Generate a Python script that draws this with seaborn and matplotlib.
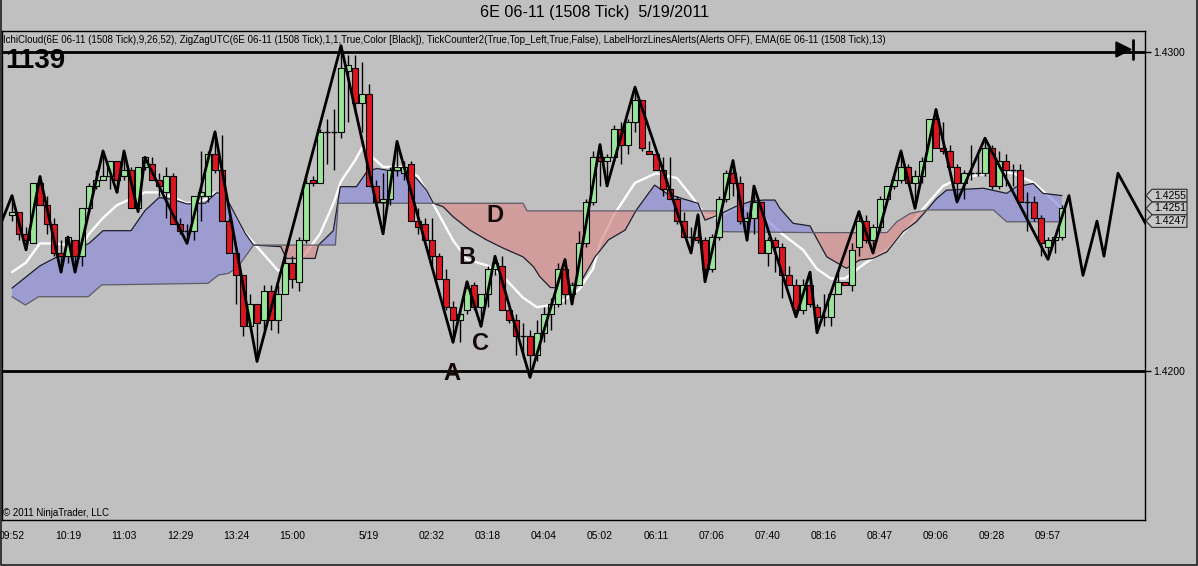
import numpy as np
import matplotlib
matplotlib.use("Agg")
import matplotlib.pyplot as plt
import seaborn as sns
from matplotlib.patches import Polygon
from matplotlib.lines import Line2D

# ---------------- data (prices expressed as pips above 1.4200) ----------------
BASE = 1.4200
PIP = 0.0001

opens_pips = [49, 50, 43, 40, 59, 52, 46, 37, 36, 41,
              36, 51, 58, 60, 61, 66, 61, 63, 51, 64,
              65, 60, 56, 61, 46, 44, 44, 55, 55, 68,
              63, 47, 37, 30, 14, 21, 16, 25, 16, 24,
              34, 28, 41, 60, 59, 75, 75, 75, 94, 95,
              84, 87, 58, 53, 54, 63, 62, 65, 47, 46,
              41, 36, 29, 20, 16, 19, 27, 20, 24, 32,
              33, 19, 16, 11, 11, 5, 12, 18, 21, 32,
              24, 27, 40, 53, 67, 66, 67, 76, 71, 78,
              85, 69, 68, 63, 57, 54, 47, 42, 42, 41,
              32, 42, 54, 62, 59, 47, 48, 53, 37, 41,
              39, 30, 27, 19, 27, 20, 17, 17, 24, 28,
              27, 39, 47, 41, 45, 54, 58, 60, 64, 59,
              61, 66, 79, 70, 69, 64, 59, 62, 62, 62,
              70, 58, 66, 63, 63, 53, 53, 48, 39, 41,
              42]
highs_pips = [55, 50, 45, 59, 61, 55, 48, 41, 42, 41,
              51, 59, 63, 69, 66, 66, 69, 64, 64, 67,
              67, 62, 64, 62, 48, 46, 55, 69, 69, 75,
              74, 48, 37, 30, 24, 21, 27, 27, 27, 36,
              36, 42, 61, 61, 76, 79, 82, 102, 99, 99,
              97, 90, 60, 62, 64, 72, 66, 66, 51, 48,
              48, 37, 32, 22, 19, 28, 28, 24, 33, 36,
              36, 20, 18, 15, 13, 16, 20, 23, 34, 35,
              28, 44, 54, 69, 71, 68, 77, 78, 79, 89,
              85, 72, 68, 67, 67, 55, 50, 45, 49, 42,
              43, 55, 63, 66, 61, 50, 58, 53, 42, 42,
              40, 33, 29, 29, 31, 21, 24, 24, 31, 28,
              40, 50, 49, 46, 55, 58, 61, 69, 65, 63,
              67, 79, 82, 78, 71, 65, 63, 71, 69, 73,
              71, 69, 68, 65, 65, 56, 55, 49, 42, 42,
              52]
lows_pips = [47, 41, 38, 40, 52, 43, 36, 31, 34, 31,
             33, 50, 57, 60, 57, 56, 60, 51, 50, 63,
             60, 55, 48, 46, 43, 40, 41, 47, 53, 62,
             47, 37, 21, 11, 14, 3, 13, 13, 12, 24,
             26, 25, 40, 58, 59, 65, 63, 73, 78, 81,
             75, 58, 52, 43, 52, 61, 60, 47, 43, 41,
             33, 29, 19, 9, 9, 18, 19, 14, 20, 30,
             19, 15, 5, 4, -2, 3, 9, 13, 20, 21,
             21, 27, 39, 52, 58, 58, 66, 65, 68, 75,
             69, 68, 63, 55, 54, 46, 42, 37, 40, 28,
             31, 41, 53, 55, 46, 41, 43, 37, 33, 31,
             23, 27, 17, 18, 20, 12, 14, 14, 24, 27,
             25, 36, 40, 37, 44, 54, 57, 59, 59, 51,
             59, 66, 70, 68, 64, 53, 54, 60, 61, 61,
             57, 57, 58, 58, 53, 44, 47, 36, 35, 37,
             41]
closes_pips = [50, 43, 41, 59, 52, 46, 37, 36, 42, 36,
               51, 58, 60, 61, 66, 60, 63, 51, 64, 67,
               60, 58, 61, 46, 44, 44, 55, 56, 68, 63,
               47, 37, 30, 14, 21, 15, 25, 16, 24, 34,
               29, 41, 59, 59, 75, 75, 75, 95, 96, 84,
               87, 58, 53, 54, 63, 64, 64, 47, 45, 41,
               36, 29, 20, 16, 18, 26, 20, 24, 32, 34,
               19, 16, 11, 11, 5, 12, 18, 21, 32, 24,
               27, 40, 53, 67, 66, 67, 76, 71, 78, 85,
               70, 68, 63, 57, 54, 47, 42, 42, 41, 32,
               42, 54, 62, 59, 47, 48, 53, 37, 41, 39,
               30, 27, 19, 27, 21, 17, 17, 24, 28, 27,
               38, 47, 41, 45, 54, 58, 60, 64, 59, 61,
               66, 79, 70, 69, 64, 59, 62, 62, 62, 70,
               58, 66, 63, 63, 53, 53, 48, 40, 41, 42,
               51]

# EMA(13) read at bar positions
ema_bar = [0, 2, 4, 6, 8, 10, 11, 13, 15, 17, 19, 21, 23, 25, 28, 29, 31, 33, 36, 38,
           40, 42, 44, 46, 47, 49, 50, 51, 53, 56, 58, 60, 63, 65, 68, 70, 73, 75, 78, 81,
           83, 84, 86, 89, 92, 95, 97, 99, 101, 103, 105, 108, 110, 113, 115, 117, 119, 122, 125, 128,
           130, 133, 135, 138, 141, 143, 146, 148, 150]
ema_pips = [31, 34, 40, 40, 39.5, 39.5, 43, 48, 52, 54, 56, 56, 54.5, 52.5, 54, 56, 52, 44, 36.5, 31.5,
            32, 37, 43, 53, 59.5, 66, 70, 68, 64, 64, 61, 53, 41, 35, 33, 30, 23, 20, 21, 25.5,
            32, 40, 49, 59, 62, 60.5, 55, 49, 48, 51, 51, 47, 43, 38, 32, 29, 29, 34, 38, 45,
            50.5, 58, 60, 61.5, 62.5, 62, 59, 55, 51]

# Ichimoku cloud spans
span_a_bar = [0, 4, 6, 11, 13, 17, 19, 21, 23, 25, 27.6, 29.2, 30.4, 32.3, 33.3, 34.5, 38.4, 39.2, 43.3, 43.8,
              45.9, 46.9, 49.2, 50.7, 52.1, 54, 55.9, 57.8, 59.2, 60.2, 61.6, 63, 65.4, 67.8, 70.2, 73, 74.5, 75.4, 76.9, 79.5,
              81.4, 83.3, 85.2, 87.6, 89.2, 91.8, 93.5, 95.7, 98, 99, 100.9, 103.3, 105.4, 107.3, 109, 109.7, 111.6, 114, 114.5, 116.4,
              119.2, 121.1, 123, 125, 127.3, 129.2, 130.7, 132.1, 133.5, 138.8, 142.1, 143.5, 145.9, 147.3, 150]
span_a_pips = [26, 33, 35.3, 40, 44, 44, 50.3, 54.4, 53.8, 52.4, 52.6, 55.9, 55.2, 47.3, 43.2, 39.5, 39.0, 35.3, 35.3, 39.5,
               44.0, 57.8, 57.8, 62.5, 63.5, 62.8, 62.8, 60.4, 56.7, 52.6, 51.5, 48.4, 44.2, 41.1, 38.5, 35.8, 32.7, 29.6, 26.2, 25.9,
               28.5, 35.8, 41.1, 44.2, 50.5, 58.3, 55.7, 54.1, 52.6, 47.3, 48.9, 51.5, 53.1, 53.6, 53.6, 51, 46.3, 45.5, 43.4, 35.8,
               32.2, 34.8, 35.3, 37.4, 43.7, 46.8, 50.5, 54.1, 56.7, 57.3, 55.7, 57.8, 58.8, 55.7, 55]
span_b_bar = [0, 1.9, 3.8, 10.9, 12.8, 28, 29.5, 30.9, 32.3, 34.5, 46.2, 46.6, 73.0, 73.6, 100.6, 101.2,
              114.5, 125, 126.4, 128.3, 130.7, 140.2, 142.1, 150]
span_b_pips = [23.3, 20.7, 23.3, 23.3, 27.0, 27.5, 30.1, 30.6, 32.7, 39.5, 39.5, 52.6, 52.6, 50.2, 50.2, 43.7,
               43.4, 43.4, 46.8, 49.4, 50.5, 50.5, 46.8, 46.8]

# ZigZag swing points (last six are the projected leg beyond the last bar)
zz_bar = [-2, 0, 2, 4, 7, 8, 9, 13, 15, 16, 18, 19, 25, 29, 35, 47, 53, 55, 63, 65, 67, 69, 74, 79, 80,
          84, 85, 89, 97, 98, 99, 103, 105, 106, 112, 114, 115, 121, 123, 127, 129, 132, 135, 139, 148,
          151, 153, 155, 156, 158, 162]
zz_pips = [44, 55, 38, 61, 31, 42, 31, 69, 56, 69, 50, 67, 40, 75, 3, 102, 43, 72, 9, 28, 14, 36, -2, 35, 21,
           71, 58, 89, 37, 49, 28, 66, 41, 58, 17, 31, 12, 50, 37, 69, 51, 82, 53, 73, 35,
           55, 30, 47, 36, 62, 46]

tick_bars = [0, 8, 16, 24, 32, 40, 48, 51, 60, 68, 76, 84, 92, 100, 108, 116, 124, 132, 140, 148]
tick_labels = ["09:52", "10:19", "11:03", "12:29", "13:24", "15:00", "", "5/19", "02:32", "03:18",
               "04:04", "05:02", "06:11", "07:06", "07:40", "08:16", "08:47", "09:06", "09:28", "09:57"]

price_ticks = [1.4300, 1.4200]
price_tick_labels = ["1.4300", "1.4200"]
tag_values = [1.4255, 1.4251, 1.4247]

abcd_labels = ["A", "B", "C", "D"]
abcd_bar = [62.8, 65.0, 66.9, 69.0]
abcd_pips = [-0.8, 35.5, 8.7, 48.9]

title_text = "6E 06-11 (1508 Tick)  5/19/2011"
indicator_text = ("IchiCloud(6E 06-11 (1508 Tick),9,26,52), ZigZagUTC(6E 06-11 (1508 Tick),1,1,True,Color [Black]), "
                  "TickCounter2(True,Top_Left,True,False), LabelHorzLinesAlerts(Alerts OFF), EMA(6E 06-11 (1508 Tick),13)")
counter_text = "1139"
copyright_text = "\u00a9 2011 NinjaTrader, LLC"

# ---------------- conversion ----------------
def to_price(p):
    return BASE + np.asarray(p, dtype=float) * PIP

o = to_price(opens_pips)
h = to_price(highs_pips)
l = to_price(lows_pips)
c = to_price(closes_pips)
idx = np.arange(len(o))

# ---------------- style ----------------
BG = "#C0C0C0"
GREEN = "#9AE59A"
RED = "#DA1620"
sns.set_style("white", {"axes.facecolor": BG, "figure.facecolor": BG})
plt.rcParams['font.family'] = ['Liberation Sans', 'DejaVu Sans']

W, H = 1198, 566
fig = plt.figure(figsize=(W / 100, H / 100), dpi=100, facecolor=BG)


def fx(px):
    return px / W


def fy(py):
    return 1 - py / H


ax = fig.add_axes([fx(2), fy(520), fx(1145) - fx(2), fy(31) - fy(520)])
ax.set_facecolor(BG)
ax.set_xlim(-1.43, 161.86)
ax.set_ylim(float(to_price(-46.7)), float(to_price(106.6)))

# EMA (under the cloud)
sns.lineplot(x=ema_bar, y=to_price(ema_pips), color="white", lw=1.7, ax=ax, zorder=1.5,
             estimator=None, sort=False)

# Cloud
grid = np.linspace(0, 150, 3001)
a_g = np.interp(grid, span_a_bar, to_price(span_a_pips))
b_g = np.interp(grid, span_b_bar, to_price(span_b_pips))
ax.fill_between(grid, a_g, b_g, where=a_g >= b_g, interpolate=True, color="#8E8ED8", alpha=0.72, lw=0, zorder=2)
ax.fill_between(grid, a_g, b_g, where=a_g < b_g, interpolate=True, color="#D88E8E", alpha=0.72, lw=0, zorder=2)
ax.plot(span_a_bar, to_price(span_a_pips), color="#1E1E2A", lw=0.9, zorder=2.5)
ax.plot(span_b_bar, to_price(span_b_pips), color="#5C5C68", lw=0.9, zorder=2.5)

# horizontal level lines
for lv in price_ticks:
    ax.axhline(lv, color="black", lw=2.0, zorder=3)

# candles
ax.vlines(idx, l, h, color="black", lw=1.0, zorder=3.5)
up = c > o
dn = c < o
eq = c == o
bw = 0.72
ax.bar(idx[up], (c - o)[up], bottom=o[up], width=bw, color=GREEN, edgecolor="black", lw=0.8, zorder=4)
ax.bar(idx[dn], (o - c)[dn], bottom=c[dn], width=bw, color=RED, edgecolor="black", lw=0.8, zorder=4)
ax.hlines(o[eq], idx[eq] - bw / 2, idx[eq] + bw / 2, color="black", lw=1.0, zorder=4)

# zigzag
sns.lineplot(x=zz_bar, y=to_price(zz_pips), color="black", lw=2.0, ax=ax, zorder=5,
             estimator=None, sort=False)

# A B C D annotations
for lab, xb, yp in zip(abcd_labels, abcd_bar, abcd_pips):
    ax.text(xb, float(to_price(yp)), lab, fontsize=17, fontweight="bold", color="#140808",
            ha="center", va="center", zorder=6)

# axes decorations
for sp in ax.spines.values():
    sp.set_color("black")
    sp.set_linewidth(1.0)
    sp.set_visible(True)
ax.set_xticks(tick_bars)
ax.set_xticklabels(tick_labels, fontsize=7.5)
ax.yaxis.tick_right()
ax.set_yticks(price_ticks)
ax.set_yticklabels(price_tick_labels, fontsize=7.5)
ax.tick_params(axis="x", direction="out", length=5, width=1, pad=3, colors="black")
ax.tick_params(axis="y", direction="out", length=4, width=1, pad=2, colors="black")
ax.set_xlabel("")
ax.set_ylabel("")

# texts
t_title = fig.text(fx(595), fy(13), title_text, ha="center", va="center", fontsize=10.5, color="black")
t_ind = fig.text(fx(3), fy(40), indicator_text, ha="left", va="center", fontsize=7, color="black")
fig.text(fx(5), fy(61), counter_text, ha="left", va="center", fontsize=20, fontweight="bold", color="black")
fig.text(fx(3), fy(513), copyright_text, ha="left", va="center", fontsize=7, color="black")

# fit the indicator text to its width in the reference
fig.canvas.draw()
r = fig.canvas.get_renderer()
wid = t_ind.get_window_extent(r).width
t_ind.set_fontsize(7 * 887.0 / wid)
wid = t_title.get_window_extent(r).width
t_title.set_fontsize(10.5 * 230.0 / wid)

# "scroll to end" glyph
tri = Polygon([[fx(1116), fy(42)], [fx(1116), fy(57)], [fx(1131), fy(49.5)]], closed=True,
              transform=fig.transFigure, facecolor="black", edgecolor="black", zorder=10)
fig.patches.append(tri)
fig.lines.append(Line2D([fx(1133), fx(1133)], [fy(40), fy(59)], transform=fig.transFigure,
                        color="black", lw=2.0))

# price tags at the right
fig.canvas.draw()
for v in tag_values:
    ydisp = ax.transData.transform((0, v))[1]
    yf = ydisp / fig.bbox.height
    hh = 6.3 / H
    poly = Polygon([[fx(1146), yf], [fx(1152), yf + hh], [fx(1187), yf + hh], [fx(1187), yf - hh],
                    [fx(1152), yf - hh]], closed=True, transform=fig.transFigure,
                   facecolor="#C6C6C6", edgecolor="#3A3A3A", lw=0.9)
    fig.patches.append(poly)
    fig.text(fx(1170), yf, f"{v:.4f}", ha="center", va="center", fontsize=7.5, color="black")

# window frame (left, bottom, right)
fig.lines.append(Line2D([0.0008, 0.0008, 0.9992, 0.9992], [1.0, 0.0015, 0.0015, 1.0],
                        transform=fig.transFigure, color="#202020", lw=1.2))

fig.savefig("out.png", dpi=100, facecolor=BG)
